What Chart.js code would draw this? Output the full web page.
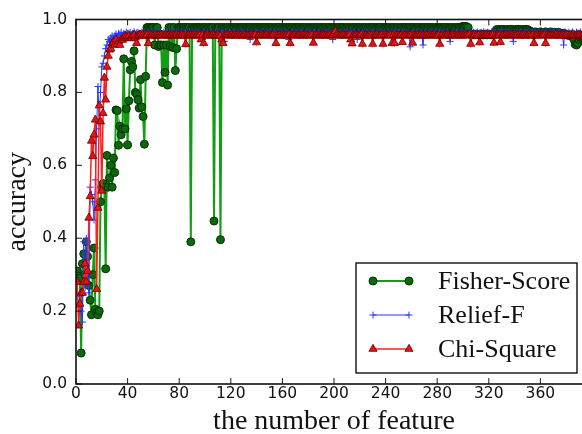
<!DOCTYPE html>
<html><head><meta charset="utf-8">
<script src="https://cdn.jsdelivr.net/npm/chart.js@4.4.0/dist/chart.umd.min.js"></script>
<style>html,body{margin:0;padding:0;overflow:hidden;background:#fff}#wrap{width:582px;height:434px;overflow:hidden;position:relative;background:#fff}canvas{display:block}</style>
</head><body><div id="wrap"><canvas id="c" width="620" height="434" style="width:620px;height:434px"></canvas></div>
<script>
const seriesNames = ['Fisher-Score', 'Relief-F', 'Chi-Square'];
const xTicks = [0, 40, 80, 120, 160, 200, 240, 280, 320, 360, 400];
const yTicks = [0.0, 0.2, 0.4, 0.6, 0.8, 1.0];

const fisherScore = [
.310,.296,.290,.085,.330,.357,.300,.390,.350,.270,
.230,.190,.300,.373,.205,.195,.190,.200,.500,.540,
.550,.540,.316,.627,.540,.565,.600,.540,.620,.580,
.752,.750,.655,.707,.684,.700,.892,.700,.755,.656,
.777,.862,.885,.870,.914,.800,.795,.780,.757,.835,
.760,.734,.658,.844,.978,.978,.976,.978,.978,.978,
.930,.978,.978,.926,.930,.930,.827,.930,.855,.930,
.820,.978,.926,.978,.923,.978,.860,.920,.978,.978,
.978,.976,.978,.978,.978,.976,.978,.978,.390,.978,
.978,.976,.978,.978,.978,.978,.976,.978,.978,.978,
.976,.978,.978,.978,.978,.978,.447,.978,.976,.978,
.978,.396,.978,.978,.976,.978,.978,.978,.978,.976,
.978,.978,.978,.978,.976,.978,.978,.978,.978,.978,
.976,.978,.978,.978,.978,.978,.976,.978,.978,.978,
.978,.976,.978,.978,.978,.978,.978,.976,.978,.978,
.978,.978,.976,.978,.978,.978,.978,.978,.976,.978,
.978,.976,.978,.978,.978,.978,.976,.978,.978,.978,
.978,.978,.978,.976,.978,.978,.978,.978,.978,.976,
.978,.978,.976,.978,.978,.978,.978,.976,.978,.978,
.978,.978,.978,.978,.976,.978,.978,.978,.976,.978,
.978,.976,.978,.978,.978,.978,.978,.976,.978,.978,
.978,.978,.976,.978,.978,.978,.976,.978,.978,.978,
.976,.978,.978,.978,.978,.976,.978,.978,.978,.978,
.978,.976,.978,.978,.978,.978,.978,.976,.978,.978,
.978,.978,.978,.976,.978,.978,.978,.976,.978,.978,
.976,.978,.978,.978,.978,.978,.976,.978,.978,.978,
.978,.978,.976,.978,.978,.978,.978,.976,.978,.978,
.978,.976,.978,.978,.978,.978,.976,.978,.978,.978,
.978,.978,.978,.976,.978,.978,.978,.978,.976,.978,
.978,.978,.976,.978,.978,.978,.978,.976,.980,.981,
.980,.981,.980,.978,.962,.958,.958,.960,.958,.958,
.960,.958,.958,.960,.958,.958,.960,.958,.958,.960,
.958,.958,.960,.958,.962,.972,.972,.970,.972,.972,
.973,.972,.970,.972,.972,.972,.973,.972,.970,.972,
.972,.972,.973,.972,.970,.972,.972,.972,.973,.972,
.970,.968,.966,.965,.965,.966,.965,.964,.965,.966,
.965,.964,.965,.966,.965,.964,.965,.966,.965,.964,
.965,.963,.962,.965,.963,.962,.960,.962,.960,.958,
.957,.958,.956,.955,.952,.945,.932,.930,.935,.945,
.950,.952,.950,.948,.950,.952,.950
];

const reliefF = [
.250,.210,.240,.200,.170,.390,.264,.400,.300,.250,
.540,.520,.500,.450,.560,.700,.816,.720,.800,.870,
.880,.900,.920,.930,.945,.940,.950,.955,.945,.955,
.960,.950,.962,.958,.965,.955,.962,.960,.965,.962,
.962,.965,.958,.962,.966,.960,.963,.965,.962,.958,
.965,.962,.966,.960,.963,.965,.962,.960,.966,.963,
.962,.965,.960,.963,.966,.962,.960,.965,.963,.962,
.966,.960,.963,.965,.962,.966,.960,.963,.965,.962,
.960,.966,.963,.962,.965,.960,.963,.966,.962,.965,
.963,.960,.966,.962,.965,.963,.960,.945,.966,.962,
.962,.965,.960,.963,.966,.962,.960,.965,.963,.962,
.966,.960,.963,.965,.940,.966,.960,.963,.965,.962,
.960,.966,.963,.962,.965,.960,.963,.966,.962,.965,
.963,.960,.966,.962,.945,.963,.960,.962,.966,.963,
.962,.965,.960,.963,.966,.962,.960,.965,.963,.962,
.966,.960,.963,.965,.962,.966,.960,.963,.965,.962,
.960,.966,.963,.962,.945,.960,.963,.966,.962,.965,
.963,.960,.966,.962,.965,.963,.960,.962,.966,.963,
.962,.965,.960,.963,.966,.962,.960,.965,.963,.962,
.966,.960,.963,.965,.962,.966,.960,.963,.945,.962,
.970,.966,.963,.962,.965,.960,.963,.966,.962,.965,
.963,.960,.966,.962,.965,.963,.960,.945,.966,.963,
.962,.965,.960,.963,.966,.962,.960,.965,.963,.962,
.966,.960,.963,.965,.962,.966,.960,.963,.965,.962,
.960,.966,.963,.962,.965,.960,.963,.966,.962,.965,
.963,.960,.966,.962,.965,.963,.960,.962,.925,.963,
.962,.965,.960,.963,.966,.962,.960,.965,.930,.962,
.966,.960,.963,.965,.962,.966,.960,.963,.965,.962,
.960,.966,.963,.962,.965,.960,.963,.966,.962,.940,
.963,.960,.966,.962,.965,.963,.960,.962,.966,.963,
.962,.965,.960,.963,.966,.962,.960,.965,.963,.962,
.966,.960,.963,.965,.962,.966,.960,.963,.965,.962,
.960,.966,.963,.962,.965,.960,.963,.966,.962,.965,
.963,.960,.966,.962,.965,.963,.960,.962,.940,.963,
.962,.965,.960,.963,.966,.962,.960,.965,.963,.962,
.966,.960,.963,.965,.962,.966,.960,.963,.965,.962,
.960,.966,.963,.962,.965,.960,.963,.966,.962,.965,
.963,.960,.966,.962,.965,.963,.960,.930,.966,.963,
.962,.965,.960,.963,.966,.962,.960,.965,.963,.962,
.966,.960,.963,.965,.962,.966,.960
];

const chiSquare = [
.280,.160,.220,.250,.250,.280,.330,.280,.310,.456,
.515,.667,.625,.684,.725,.260,.483,.764,.720,.530,
.743,.840,.780,.870,.900,.917,.920,.935,.938,.930,
.945,.932,.940,.930,.945,.944,.950,.955,.953,.950,
.955,.948,.950,.955,.958,.950,.935,.955,.958,.958,
.955,.960,.958,.955,.958,.935,.957,.955,.958,.956,
.957,.955,.958,.957,.956,.958,.957,.955,.957,.958,
.956,.957,.955,.958,.957,.956,.957,.958,.955,.957,
.956,.958,.957,.955,.932,.957,.958,.956,.957,.955,
.958,.957,.956,.957,.955,.958,.945,.957,.935,.956,
.957,.958,.955,.957,.956,.958,.957,.955,.957,.958,
.956,.955,.945,.935,.957,.956,.958,.957,.955,.957,
.958,.956,.957,.955,.958,.957,.956,.957,.955,.958,
.957,.955,.957,.956,.958,.957,.955,.957,.958,.937,
.956,.957,.955,.958,.957,.956,.957,.958,.955,.957,
.956,.957,.958,.955,.935,.957,.956,.957,.955,.958,
.957,.956,.957,.955,.958,.935,.957,.956,.958,.957,
.955,.957,.958,.956,.957,.955,.958,.957,.956,.957,
.955,.958,.957,.936,.956,.957,.958,.955,.957,.956,
.958,.957,.955,.957,.956,.958,.957,.955,.957,.962,
.968,.958,.957,.955,.957,.956,.958,.957,.955,.957,
.956,.958,.945,.934,.957,.956,.958,.957,.955,.957,
.958,.933,.957,.955,.957,.956,.958,.957,.955,.933,
.957,.956,.958,.957,.955,.957,.956,.933,.958,.957,
.955,.957,.958,.956,.935,.957,.935,.958,.957,.955,
.956,.957,.938,.958,.957,.955,.957,.956,.958,.957,
.936,.957,.955,.957,.958,.956,.957,.955,.958,.957,
.956,.957,.955,.958,.957,.956,.958,.957,.955,.957,
.956,.933,.957,.958,.955,.957,.956,.958,.957,.955,
.957,.958,.956,.957,.955,.958,.957,.956,.957,.955,
.958,.957,.956,.957,.958,.933,.957,.956,.958,.955,
.957,.956,.937,.958,.957,.955,.957,.958,.956,.957,
.955,.958,.957,.936,.957,.955,.958,.957,.938,.956,
.957,.955,.958,.957,.956,.957,.955,.958,.957,.956,
.958,.957,.955,.957,.956,.958,.957,.955,.957,.956,
.958,.957,.955,.957,.935,.956,.958,.957,.955,.957,
.956,.958,.957,.935,.957,.955,.958,.957,.956,.957,
.955,.958,.957,.956,.957,.955,.958,.957,.956,.958,
.957,.955,.957,.956,.958,.957,.955,.957,.956,.958,
.957,.955,.957,.956,.958,.957,.955
];

const toPoints = arr => arr.map((v, i) => ({ x: i + 1, y: v }));

const styles = [
  { line: '#129e12', fill: '#0c680c', edge: '#053005', width: 2, point: 'circle', r: 4, pbw: 1 },
  { line: '#2438ff', fill: '#2438ff', edge: '#2438ff', width: 1, point: 'cross', r: 3.5, pbw: 1 },
  { line: '#ff1e1e', fill: '#e41414', edge: '#6a0000', width: 1.5, point: 'triangle', r: 4.7, pbw: 0.8 }
];
const seriesValues = [fisherScore, reliefF, chiSquare];

const datasets = seriesValues.map((vals, k) => ({
  label: seriesNames[k],
  data: toPoints(vals),
  borderColor: styles[k].line,
  borderWidth: styles[k].width,
  pointStyle: styles[k].point,
  pointRadius: styles[k].r,
  pointBackgroundColor: styles[k].fill,
  pointBorderColor: styles[k].edge,
  pointBorderWidth: styles[k].pbw,
  tension: 0,
  fill: false,
  order: 3 - k
}));

const framePlugin = {
  id: 'frame',
  afterDatasetsDraw(chart) {
    const { ctx, chartArea: a, scales: { x, y } } = chart;
    ctx.save();
    ctx.strokeStyle = '#1a1a1a';
    ctx.lineWidth = 1;
    xTicks.forEach(v => {
      const px = x.getPixelForValue(v);
      ctx.beginPath();
      ctx.moveTo(px, a.bottom); ctx.lineTo(px, a.bottom - 6);
      ctx.moveTo(px, a.top); ctx.lineTo(px, a.top + 6);
      ctx.stroke();
    });
    yTicks.forEach(v => {
      const py = y.getPixelForValue(v);
      ctx.beginPath();
      ctx.moveTo(a.left, py); ctx.lineTo(a.left + 6, py);
      ctx.moveTo(a.right, py); ctx.lineTo(a.right - 6, py);
      ctx.stroke();
    });
    ctx.lineWidth = 1.6;
    ctx.strokeStyle = '#111';
    ctx.strokeRect(a.left, a.top, a.right - a.left, a.bottom - a.top);
    ctx.restore();
  },
  afterDraw(chart) {
    const ctx = chart.ctx;
    ctx.save();
    ctx.fillStyle = '#fff';
    ctx.fillRect(356, 263, 221, 110);
    ctx.strokeStyle = '#111';
    ctx.lineWidth = 1.4;
    ctx.strokeRect(356, 263, 221, 110);
    const rows = [281, 315, 349];
    ctx.font = '26px "Liberation Serif", "Times New Roman", serif';
    ctx.textBaseline = 'middle';
    rows.forEach((yy, k) => {
      const s = styles[k];
      ctx.strokeStyle = s.line;
      ctx.lineWidth = s.width;
      ctx.beginPath(); ctx.moveTo(373, yy); ctx.lineTo(409, yy); ctx.stroke();
      [373, 409].forEach(xx => {
        ctx.fillStyle = s.fill; ctx.strokeStyle = s.edge; ctx.lineWidth = s.pbw;
        Chart.helpers.drawPoint(ctx, { pointStyle: s.point, radius: s.r, borderWidth: s.pbw, rotation: 0 }, xx, yy);
      });
      ctx.fillStyle = '#111';
      ctx.fillText(seriesNames[k], 438, yy + 1);
    });
    ctx.restore();
  }
};

new Chart(document.getElementById('c'), {
  type: 'line',
  data: { datasets },
  options: {
    responsive: false,
    animation: false,
    devicePixelRatio: 1,
    layout: { padding: { top: 19.5, right: 28, left: 0, bottom: 0 } },
    plugins: { legend: { display: false }, tooltip: { enabled: false } },
    scales: {
      x: {
        type: 'linear', min: 0, max: 400,
        afterBuildTicks: s => { s.ticks = xTicks.map(v => ({ value: v })); },
        afterFit: s => { s.height = 50; },
        grid: { display: false, drawTicks: false },
        border: { display: false },
        ticks: {
          padding: 1, color: '#111', maxRotation: 0, autoSkip: false,
          font: { family: 'DejaVu Sans', size: 15.5 },
          callback: v => (v === 400 ? '' : String(v))
        },
        title: {
          display: true, text: 'the number of feature', color: '#111',
          font: { family: 'Liberation Serif', size: 28, lineHeight: 0.9 },
          padding: { top: 0, bottom: 0 }
        }
      },
      y: {
        min: 0, max: 1,
        afterBuildTicks: s => { s.ticks = yTicks.map(v => ({ value: v })); },
        afterFit: s => { s.width = 76; },
        grid: { display: false, drawTicks: false },
        border: { display: false },
        ticks: {
          padding: 9, color: '#111',
          font: { family: 'DejaVu Sans', size: 15.5 },
          callback: v => Number(v).toFixed(1)
        },
        title: {
          display: true, text: 'accuracy', color: '#111',
          font: { family: 'Liberation Serif', size: 28, lineHeight: 0.9 },
          padding: { top: 5, bottom: 0 }
        }
      }
    }
  },
  plugins: [framePlugin]
});
</script>
</body></html>
